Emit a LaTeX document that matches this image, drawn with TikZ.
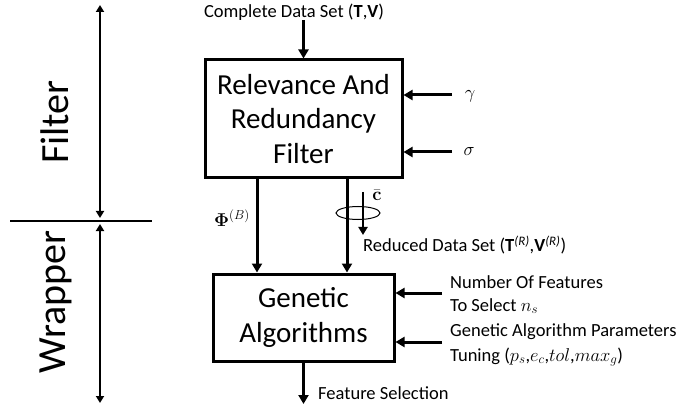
\RequirePackage{fix-cm}
\documentclass[tikz,border=0pt]{standalone}
\usepackage{amsmath,amssymb}
\usepackage[no-math]{fontspec}
\setmainfont{Carlito}
\usetikzlibrary{arrows.meta,shapes.geometric}
\begin{document}
\begin{tikzpicture}[x=1pt,y=-1pt,
  box/.style={draw,line width=3pt,align=center,inner sep=0pt,
    font=\fontsize{29}{34.5}\selectfont},
  arr/.style={line width=3pt,-{Triangle[length=9pt,width=10pt]}},
  darr/.style={line width=2pt,{Triangle[length=7pt,width=8pt]}-{Triangle[length=7pt,width=8pt]}},
  small/.style={font=\fontsize{18.5}{22}\selectfont,inner sep=0pt},
  big/.style={font=\fontsize{40}{44}\selectfont,rotate=90,inner sep=0pt}]
\useasboundingbox (0,0) rectangle (686,409);
% side labels
\node[big] (fl) at (55,122) {Filter};
\node[big] (wl) at (56,302) {Wrapper};
\coordinate (a1) at (100,5);
\coordinate (a2) at (100,218);
\coordinate (a3) at (100,224);
\coordinate (a4) at (100,403);
\draw[darr] (a1) -- (a2);
\draw[darr] (a3) -- (a4);
\coordinate (h1) at (10,221);
\coordinate (h2) at (152,221);
\draw[line width=1.5pt] (h1) -- (h2);
% boxes
\node[box,minimum width=197pt,minimum height=118pt] (filt) at (303.5,119)
  {Relevance And\\Redundancy\\Filter};
\node[box,minimum width=181pt,minimum height=87pt] (ga) at (303.5,317.5)
  {Genetic\\Algorithms};
% top input
\node[small] (cds) at (294,12) {Complete Data Set (\textbf{T},\textbf{V})};
\coordinate (tin) at (303.5,20);
\draw[arr] (tin) -- (filt.north);
% gamma sigma
\coordinate (gs) at (452,95);
\coordinate (ss) at (452,152);
\draw[arr] (gs) -- (gs -| filt.east);
\draw[arr] (ss) -- (ss -| filt.east);
\node[small] (gl) at (470,96) {$\gamma$};
\node[small] (sl) at (469,152) {$\sigma$};
% down connectors
\coordinate (lx) at (257,0);
\coordinate (rx) at (347,0);
\draw[arr] (filt.south -| lx) -- (ga.north -| lx);
\draw[arr] (filt.south -| rx) -- (ga.north -| rx);
\node[small] (phi) at (232,218) {$\boldsymbol{\Phi}^{(B)}$};
% c-bar
\coordinate (c1) at (363,192);
\coordinate (c2) at (363,235);
\draw[line width=2.5pt,-{Triangle[length=8pt,width=9pt]}] (c1) -- (c2);
\node[draw,ellipse,line width=1pt,minimum width=44pt,minimum height=13pt,inner sep=0pt] (el) at (358,213) {};
\node[small] (cb) at (377,195) {$\bar{\mathbf{c}}$};
\node[small,anchor=west] (red) at (363,245)
  {Reduced Data Set (\textbf{T}\textsuperscript{\textit{(R)}},\textbf{V}\textsuperscript{\textit{(R)}})};
% GA inputs
\coordinate (n1) at (442,293);
\coordinate (n2) at (442,342);
\draw[arr] (n1) -- (n1 -| ga.east);
\draw[arr] (n2) -- (n2 -| ga.east);
\node[small,anchor=west] (nf1) at (450,282) {Number Of Features};
\node[small,anchor=west] (nf2) at (450,306) {To Select $n_s$};
\node[small,anchor=west] (gp1) at (450,332) {Genetic Algorithm Parameters};
\node[small,anchor=west] (gp2) at (450,357) {Tuning ($p_s$,$e_c$,$tol$,$max_g$)};
% output
\coordinate (ox) at (303.5,404);
\draw[arr] (ga.south) -- (ox);
\node[small,anchor=west] (fs) at (318,393) {Feature Selection};
\end{tikzpicture}
\end{document}
